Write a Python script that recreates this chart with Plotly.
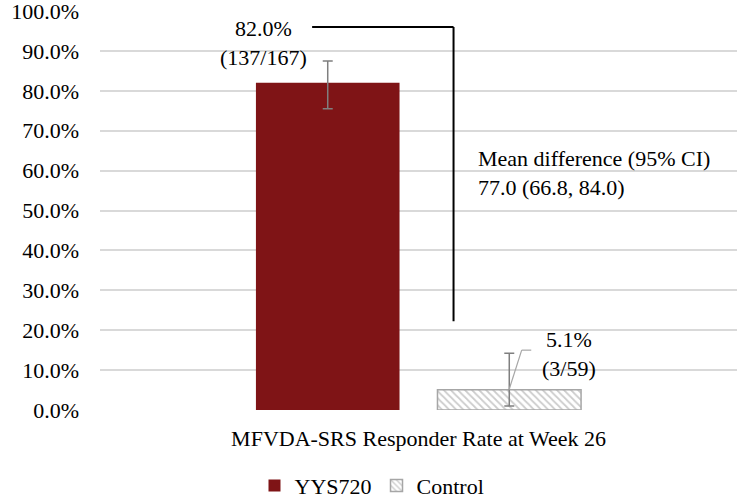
import plotly.graph_objects as go

# ---- data ----
category = ["MFVDA-SRS Responder Rate at Week 26"]
groups = ["YYS720", "Control"]
rates = [0.820, 0.051]
counts = ["(137/167)", "(3/59)"]
err_plus = [0.055, 0.091]
err_minus = [0.065, 0.041]
diff_text = ["Mean difference (95% CI)", "77.0 (66.8, 84.0)"]
y_ticks = [i / 10 for i in range(11)]

FONT = "Liberation Serif"
RED = "#7F1416"
GREY = "#A6A6A6"

fig = go.Figure()
fig.add_trace(go.Bar(
    name=groups[0], x=category, y=[rates[0]],
    marker=dict(color=RED, line=dict(width=0)),
    error_y=dict(type="data", symmetric=False, array=[err_plus[0]], arrayminus=[err_minus[0]],
                 color="#7F7F7F", thickness=1.5, width=5),
))
fig.add_trace(go.Bar(
    name=groups[1], x=category, y=[rates[1]],
    marker=dict(color="white", line=dict(color=GREY, width=1.5),
                pattern=dict(shape="\\", fgcolor="#999999", bgcolor="white", size=5, solidity=0.35)),
    error_y=dict(type="data", symmetric=False, array=[err_plus[1]], arrayminus=[err_minus[1]],
                 color="#7F7F7F", thickness=1.5, width=5),
))

# value labels
fig.add_annotation(x=-0.243, y=0.919, xref="x", yref="y",
                   text=f"{rates[0]*100:.1f}%<br>{counts[0]}", showarrow=False,
                   font=dict(family=FONT, size=22, color="black"), align="center")
fig.add_annotation(x=0.237, y=rates[1] + 0.09, xref="x", yref="y",
                   text=f"{rates[1]*100:.1f}%<br>{counts[1]}", showarrow=False,
                   font=dict(family=FONT, size=22, color="black"), align="center")
fig.add_annotation(x=0.09, y=0.595, xref="x", yref="y", xanchor="left",
                   text="<br>".join(diff_text), showarrow=False,
                   font=dict(family=FONT, size=22, color="black"), align="left")

# bracket line (black)
fig.add_shape(type="line", xref="x", yref="y", x0=-0.167, x1=0.055, y0=0.96, y1=0.96,
              line=dict(color="black", width=2))
fig.add_shape(type="line", xref="x", yref="y", x0=0.055, x1=0.055, y0=0.96, y1=0.2225,
              line=dict(color="black", width=2))
# leader line for control label
fig.add_shape(type="line", xref="x", yref="y", x0=0.142, x1=0.162, y0=0.05, y1=0.15,
              line=dict(color=GREY, width=1.2))
fig.add_shape(type="line", xref="x", yref="y", x0=0.162, x1=0.177, y0=0.15, y1=0.15,
              line=dict(color=GREY, width=1.2))

fig.update_layout(
    width=750, height=498,
    margin=dict(l=100, r=13, t=11, b=88, autoexpand=False),
    paper_bgcolor="white", plot_bgcolor="white",
    barmode="group", bargap=0.43, bargroupgap=0.209,
    font=dict(family=FONT, size=22, color="black"),
    showlegend=True,
    legend=dict(orientation="h", x=0.427, xanchor="center", y=-0.19, yanchor="middle",
                font=dict(family=FONT, size=22, color="black"), traceorder="normal"),
    xaxis=dict(range=[-0.5, 0.5], showline=False, showgrid=False, zeroline=False,
               automargin=False,
               tickfont=dict(family=FONT, size=22, color="black"), ticklabelstandoff=13),
    yaxis=dict(range=[0, 1], tickvals=y_ticks, tickformat=".1%", showline=False,
               automargin=False, ticklabeloverflow="allow",
               showgrid=True, gridcolor="#D9D9D9", gridwidth=1.5, zeroline=False,
               tickfont=dict(family=FONT, size=22, color="black"), ticklabelstandoff=20),
)

fig.write_html("out.html")
